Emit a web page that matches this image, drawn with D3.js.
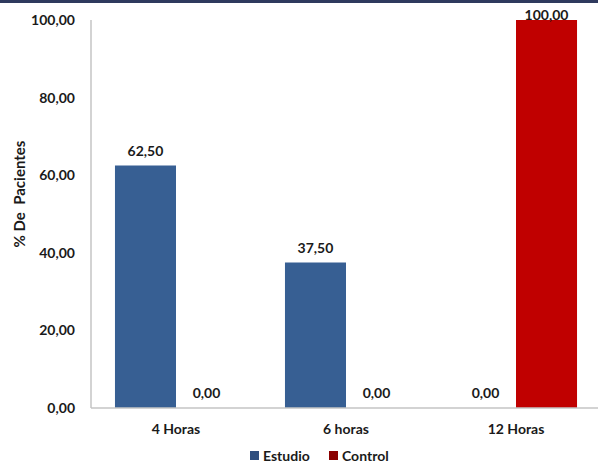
<!DOCTYPE html>
<html>
<head>
<meta charset="utf-8">
<script src="https://cdn.jsdelivr.net/npm/d3@7"></script>
<style>
  html, body { margin: 0; padding: 0; background: #fff; }
  svg { display: block; }
  text { font-family: Lato, "Open Sans", sans-serif; font-weight: bold; fill: #1a1a1a; }
</style>
</head>
<body>
<svg id="chart" width="598" height="468"></svg>
<script>
// Tiempo de respuesta: porcentaje de pacientes por grupo
const categories = ["4 Horas", "6 horas", "12 Horas"];
const seriesNames = ["Estudio", "Control"];
const estudio = [62.5, 37.5, 0];
const control = [0, 0, 100];
const yTicks = [0, 20, 40, 60, 80, 100];
const colors = ["#375f93", "#c00000"];

const svg = d3.select("#chart");
const W = 598, H = 468;
const margin = { left: 91, right: -3, top: 20, bottom: 60 };

const fmt = v => d3.format(".2f")(v).replace(".", ",");

// frame band along the top edge
svg.append("rect").attr("x", 0).attr("y", 0).attr("width", W).attr("height", 3)
  .attr("fill", "#2f3a5e");

const x = d3.scaleBand()
  .domain(categories)
  .range([margin.left, W - margin.right])
  .paddingInner(0.282)
  .paddingOuter(0.141);

const xSub = d3.scaleBand()
  .domain(seriesNames)
  .range([0, x.bandwidth()]);

const y = d3.scaleLinear()
  .domain([0, 100])
  .range([H - margin.bottom, margin.top]);

// y axis: labels only, plus a plain vertical line
const yAxis = d3.axisLeft(y).tickValues(yTicks).tickFormat(fmt).tickSize(0).tickPadding(16);
const gy = svg.append("g").attr("transform", `translate(${margin.left},0)`).call(yAxis);
gy.select(".domain").remove();
gy.selectAll("text").style("font-size", "14px").attr("font-family", null);
svg.append("line")
  .attr("x1", margin.left).attr("x2", margin.left)
  .attr("y1", y(100)).attr("y2", y(0))
  .attr("stroke", "#c4c4c4").attr("stroke-width", 1.5);

// x axis: category labels and baseline
const xAxis = d3.axisBottom(x).tickSize(0).tickPadding(16);
const gx = svg.append("g").attr("transform", `translate(0,${y(0)})`).call(xAxis);
gx.select(".domain").remove();
gx.selectAll("text").style("font-size", "14px").attr("font-family", null);

// bars
const rows = categories.map((c, i) => ({ cat: c, values: [estudio[i], control[i]] }));
const groups = svg.append("g").selectAll("g").data(rows).join("g")
  .attr("transform", d => `translate(${x(d.cat)},0)`);

groups.selectAll("rect")
  .data(d => d.values.map((v, j) => ({ name: seriesNames[j], v, j })))
  .join("rect")
  .attr("x", d => xSub(d.name))
  .attr("y", d => y(d.v))
  .attr("width", xSub.bandwidth())
  .attr("height", d => y(0) - y(d.v))
  .attr("fill", d => colors[d.j]);

groups.selectAll("text.val")
  .data(d => d.values.map((v, j) => ({ name: seriesNames[j], v, j })))
  .join("text")
  .attr("class", "val")
  .attr("x", d => xSub(d.name) + xSub.bandwidth() / 2)
  .attr("y", d => Math.max(y(d.v) - 10, y(100)))
  .attr("text-anchor", "middle")
  .style("font-size", "14px")
  .text(d => fmt(d.v));

svg.append("line")
  .attr("x1", margin.left).attr("x2", W)
  .attr("y1", y(0)).attr("y2", y(0))
  .attr("stroke", "#c4c4c4").attr("stroke-width", 1.5);

// y axis title
svg.append("text")
  .attr("transform", `translate(25,194) rotate(-90)`)
  .attr("text-anchor", "middle")
  .style("font-size", "15px")
  .style("white-space", "pre")
  .text("% De  Pacientes");

// legend
const legend = svg.append("g").attr("transform", `translate(250,456)`);
const items = [{ name: "Estudio", dx: 0 }, { name: "Control", dx: 79 }];
items.forEach((it, i) => {
  legend.append("rect").attr("x", it.dx).attr("y", -5).attr("width", 9).attr("height", 9)
    .attr("fill", i === 0 ? "#2f4f7f" : "#8b0000");
  legend.append("text").attr("x", it.dx + 13).attr("y", 5)
    .style("font-size", "14px").text(it.name);
});
</script>
</body>
</html>
